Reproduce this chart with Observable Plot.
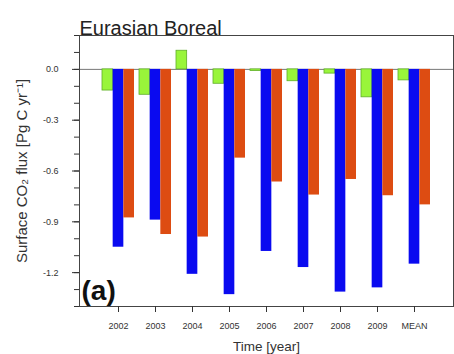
<!DOCTYPE html>
<html>
<head>
<meta charset="utf-8">
<script src="https://cdn.jsdelivr.net/npm/d3@7"></script>
<script src="https://cdn.jsdelivr.net/npm/@observablehq/plot@0.6"></script>
<style>
  html, body { margin: 0; padding: 0; background: #fff; }
  #chart svg { display: block; }
</style>
</head>
<body>
<div id="chart"></div>
<script>
const categories = ["2002", "2003", "2004", "2005", "2006", "2007", "2008", "2009", "MEAN"];
const greenValues  = [-0.125, -0.15, 0.11, -0.085, -0.01, -0.07, -0.025, -0.165, -0.065];
const blueValues   = [-1.05, -0.89, -1.21, -1.33, -1.075, -1.17, -1.315, -1.29, -1.15];
const orangeValues = [-0.877, -0.975, -0.99, -0.524, -0.665, -0.742, -0.65, -0.746, -0.80];
const yMajorTicks = [0, -0.3, -0.6, -0.9, -1.2];
const yMinorTicks = [0.2, 0.1, 0, -0.1, -0.2, -0.3, -0.4, -0.5, -0.6, -0.7, -0.8, -0.9, -1.0, -1.1, -1.2, -1.3, -1.4];
const titleText = "Eurasian Boreal";
const yLabel = "Surface CO\u2082 flux [Pg C yr\u207B\u00B9]";
const xLabel = "Time [year]";
const panelLabel = "(a)";

const rows = categories.map((c, i) => ({cat: c, g: greenValues[i], b: blueValues[i], o: orangeValues[i]}));

const pIn = 0.144;
const w = 32 / 3;

const chart = Plot.plot({
  width: 454,
  height: 354,
  marginLeft: 79,
  marginRight: 1,
  marginTop: 35,
  marginBottom: 48,
  style: {fontFamily: "'Liberation Sans', Arial, sans-serif", background: "#fff", color: "#222"},
  x: {domain: categories, paddingInner: pIn, paddingOuter: 0.5 + pIn / 2},
  y: {domain: [-1.4, 0.2]},
  marks: [
    Plot.ruleY([0], {stroke: "#777", strokeWidth: 1}),
    Plot.barY(rows, {x: "cat", y1: 0, y2: "g", fill: "#99f53a", stroke: "#5fae28", strokeWidth: 0.8, insetLeft: 0, insetRight: 2 * w}),
    Plot.barY(rows, {x: "cat", y1: 0, y2: "b", fill: "#0a0af0", insetLeft: w, insetRight: w}),
    Plot.barY(rows, {x: "cat", y1: 0, y2: "o", fill: "#dd4c12", insetLeft: 2 * w, insetRight: 0}),
    Plot.frame({stroke: "#444", strokeWidth: 1}),
    Plot.axisY({ticks: yMinorTicks, tickSize: 5, tickFormat: () => "", label: null, stroke: "#333"}),
    Plot.axisY({ticks: yMajorTicks, tickSize: 7, tickPadding: 14, tickFormat: d => d.toFixed(1), label: null, fontSize: 9, fill: "#333", stroke: "#333"}),
    Plot.axisX({tickSize: 6, tickPadding: 10, label: null, fontSize: 9, fill: "#333", stroke: "#333"}),
    Plot.text([titleText], {frameAnchor: "top-left", textAnchor: "start", lineAnchor: "bottom", dy: -1, fontSize: 20, fill: "#222"}),
    Plot.text([panelLabel], {frameAnchor: "bottom-left", textAnchor: "start", lineAnchor: "bottom", dx: 2, dy: -7, fontSize: 28, fontWeight: "bold", fill: "#111"}),
    Plot.text([yLabel], {frameAnchor: "left", textAnchor: "middle", rotate: -90, dx: -57, fontSize: 15, fill: "#333"}),
    Plot.text([xLabel], {frameAnchor: "bottom", textAnchor: "middle", lineAnchor: "bottom", dy: 44, fontSize: 13.5, fill: "#333"})
  ]
});
document.getElementById("chart").appendChild(chart);
</script>
</body>
</html>
